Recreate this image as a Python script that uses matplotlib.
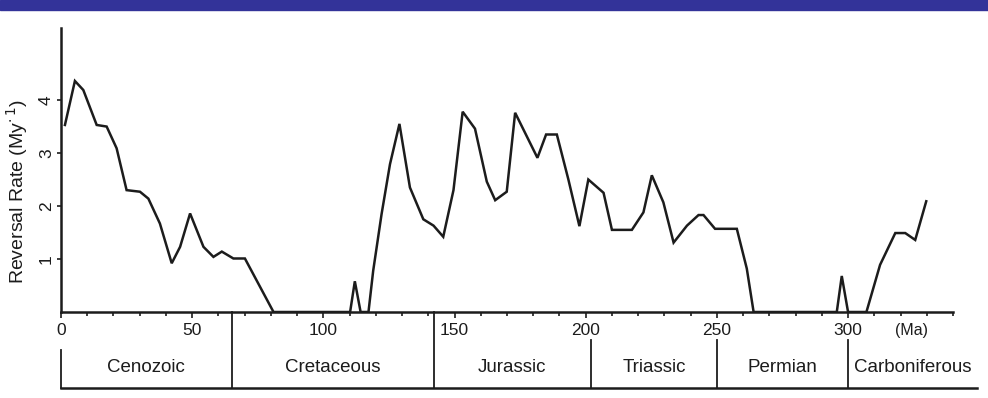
import matplotlib.pyplot as plt
from matplotlib.patches import Rectangle
from matplotlib.transforms import blended_transform_factory

# reversal rate curve (age in Ma, rate in My^-1)
ages = [1.5, 5.3, 8.5, 13.6, 17.4, 21.2, 25.0, 30.1, 33.3, 37.7, 42.2, 45.4,
        49.2, 54.3, 58.1, 61.3, 65.7, 70.1, 81.0, 110.2, 112.0, 114.2, 117.2,
        119.0, 122.2, 125.4, 129.0, 133.0, 138.1, 142.0, 145.7, 149.6, 153.1,
        157.8, 162.3, 165.5, 169.9, 173.1, 177.5, 181.6, 184.9, 189.0, 193.4,
        197.6, 201.0, 206.8, 210.0, 217.6, 222.0, 225.2, 229.6, 233.5, 238.6,
        243.0, 244.9, 249.3, 257.6, 261.4, 264.0, 295.7, 297.6, 300.0, 307.0,
        312.2, 318.0, 321.8, 325.6, 329.8]
rates = [3.53, 4.36, 4.19, 3.53, 3.50, 3.09, 2.30, 2.27, 2.14, 1.67, 0.92, 1.23,
         1.86, 1.23, 1.04, 1.14, 1.01, 1.01, 0.0, 0.0, 0.58, 0.0, 0.0,
         0.78, 1.85, 2.79, 3.55, 2.35, 1.75, 1.63, 1.42, 2.30, 3.78,
         3.46, 2.46, 2.11, 2.27, 3.76, 3.32, 2.91, 3.35, 3.35, 2.50,
         1.62, 2.50, 2.25, 1.55, 1.55, 1.88, 2.58, 2.07, 1.31, 1.63,
         1.83, 1.83, 1.57, 1.57, 0.82, 0.0, 0.0, 0.68, 0.0, 0.0,
         0.89, 1.49, 1.49, 1.36, 2.09]

# geologic periods and their boundary ages
periods = ["Cenozoic", "Cretaceous", "Jurassic", "Triassic", "Permian", "Carboniferous"]
boundaries = [0, 65, 142, 202, 250, 300, 349]

x_ticks = [0, 50, 100, 150, 200, 250, 300]
y_ticks = [1, 2, 3, 4]

ink = "#1c1c1c"
plt.rcParams["font.family"] = ["Liberation Sans", "DejaVu Sans"]

fig = plt.figure(figsize=(9.88, 3.98), dpi=100)
fig.patches.append(Rectangle((0, 1 - 10 / 398), 1, 10 / 398, transform=fig.transFigure,
                             color="#333399", zorder=0))

ax = fig.add_axes([61 / 988, 86 / 398, 892 / 988, 284 / 398])
ax.plot(ages, rates, color=ink, lw=1.8, solid_joinstyle="miter")

ax.set_xlim(0, 340)
ax.set_ylim(0, 5.36)
for side in ["top", "right"]:
    ax.spines[side].set_visible(False)
for side in ["left", "bottom"]:
    ax.spines[side].set_color(ink)
    ax.spines[side].set_linewidth(1.8)

ax.set_xticks(x_ticks)
ax.set_xticks(range(0, 341, 10), minor=True)
ax.set_yticks(y_ticks)
ax.tick_params(axis="x", which="major", length=4, width=1.2, pad=4,
               labelsize=12.5, colors=ink)
ax.tick_params(axis="x", which="minor", length=3, width=1.2, colors=ink)
ax.tick_params(axis="y", length=3, width=1.2, pad=2, labelsize=12.5, colors=ink,
               labelrotation=90)
for lab in ax.get_yticklabels():
    lab.set_va("center")

fig.text(17 / 988, 1 - 192 / 398, r"Reversal Rate (My$^{\cdot\,1}$)", rotation=90,
         ha="center", va="center", fontsize=14, color=ink)
ax.text(324, -0.04, "(Ma)", transform=blended_transform_factory(ax.transData, ax.transAxes),
        ha="center", va="top", fontsize=11.5, color=ink)

# period strip under the time axis
tr = blended_transform_factory(ax.transData, ax.transAxes)
box_top, box_bottom = -0.0986, -0.268
ax.plot([boundaries[0], boundaries[-1]], [box_bottom, box_bottom], transform=tr,
        color=ink, lw=1.8, clip_on=False)
for i, b in enumerate(boundaries[:-1]):
    top = 0.0 if b in (65, 142) else box_top
    if i == 0:
        top = -0.134
    ax.plot([b, b], [top, box_bottom], transform=tr, color=ink, lw=1.3, clip_on=False)
for name, left, right in zip(periods, boundaries[:-1], boundaries[1:]):
    ax.text((left + right) / 2, -0.194, name, transform=tr, ha="center", va="center",
            fontsize=13.5, color=ink)

fig.savefig("out.png", dpi=100)
